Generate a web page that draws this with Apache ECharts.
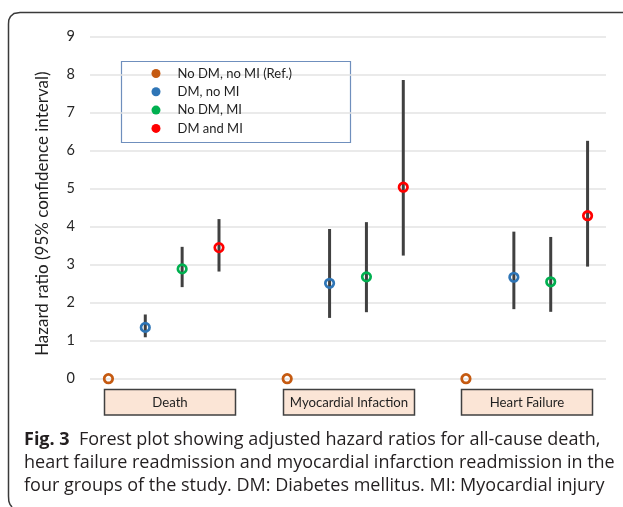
<!DOCTYPE html>
<html lang="en">
<head>
    <meta charset="utf-8">
    <title>Forest plot</title>
    <script src="https://cdn.jsdelivr.net/npm/echarts@6/dist/echarts.min.js"></script>
</head>
<body style="margin:0; background:#fff;">
<div id="main" style="width: 623px; height: 507px;"></div>
<script type="text/javascript">
    // outcomes and groups
    const categories = ['Death', 'Myocardial Infaction', 'Heart Failure'];
    const groups = ['No DM, no MI (Ref.)', 'DM, no MI', 'No DM, MI', 'DM and MI'];
    const colors = ['#c55a11', '#2e75b6', '#00b050', '#ff0000'];
    const yTicks = [0, 1, 2, 3, 4, 5, 6, 7, 8, 9];

    // slot of each point along the hidden x axis (one list per group)
    const slotRef = [0, 4.85, 9.7];
    const slotDmNoMi = [1, 6, 11];
    const slotNoDmMi = [2, 7, 12];
    const slotDmMi = [3, 8, 13];

    // hazard ratios with 95% CI
    const hrRef = [0, 0, 0];
    const hrDmNoMi = [1.35, 2.51, 2.67];
    const loDmNoMi = [1.09, 1.60, 1.83];
    const hiDmNoMi = [1.69, 3.94, 3.87];
    const hrNoDmMi = [2.89, 2.68, 2.55];
    const loNoDmMi = [2.41, 1.75, 1.76];
    const hiNoDmMi = [3.47, 4.12, 3.73];
    const hrDmMi = [3.45, 5.04, 4.29];
    const loDmMi = [2.82, 3.24, 2.95];
    const hiDmMi = [4.20, 7.86, 6.26];

    const chartFont = 'Lato';
    const capFont = 'Open Sans';

    let myChart = echarts.init(document.getElementById('main'));

    function pts(slots, vals) {
        return slots.map((s, i) => [s, vals[i]]);
    }
    function bars(slots, lo, hi) {
        return slots.map((s, i) => [s, lo[i], hi[i]]);
    }

    const barData = [].concat(
        bars(slotDmNoMi, loDmNoMi, hiDmNoMi),
        bars(slotNoDmMi, loNoDmMi, hiNoDmMi),
        bars(slotDmMi, loDmMi, hiDmMi)
    );

    const pointSets = [
        pts(slotRef, hrRef),
        pts(slotDmNoMi, hrDmNoMi),
        pts(slotNoDmMi, hrNoDmMi),
        pts(slotDmMi, hrDmMi)
    ];

    const series = [{
        type: 'custom',
        name: 'ci',
        z: 1,
        silent: true,
        data: barData,
        renderItem: function (params, api) {
            const lo = api.coord([api.value(0), api.value(1)]);
            const hi = api.coord([api.value(0), api.value(2)]);
            return {
                type: 'line',
                shape: {x1: lo[0], y1: lo[1], x2: hi[0], y2: hi[1]},
                style: {stroke: '#404040', lineWidth: 3}
            };
        }
    }];
    groups.forEach((g, i) => {
        series.push({
            type: 'scatter',
            name: g,
            z: 3,
            symbol: 'circle',
            symbolSize: 8.5,
            itemStyle: {color: 'rgba(255,255,255,0)', borderColor: colors[i], borderWidth: 2.7, opacity: 1},
            data: pointSets[i]
        });
    });

    // category label boxes
    const boxes = [
        {x: 104.5, label: categories[0]},
        {x: 283.5, label: categories[1]},
        {x: 461.5, label: categories[2]}
    ];
    const graphics = [];
    boxes.forEach(b => {
        graphics.push({
            type: 'rect',
            shape: {x: b.x, y: 389.5, width: 131, height: 25.5},
            style: {fill: '#fbe5d6', stroke: '#404040', lineWidth: 1.5}
        });
        graphics.push({
            type: 'text', x: b.x + 65.5, y: 402.5,
            style: {text: b.label, fill: '#1f1f1f', font: '13.2px ' + chartFont, textAlign: 'center', textVerticalAlign: 'middle'}
        });
    });
    // legend frame
    graphics.push({
        type: 'rect', z: -1,
        shape: {x: 121.5, y: 61.5, width: 229, height: 81},
        style: {fill: null, stroke: '#6f8fbd', lineWidth: 1.2}
    });
    // figure frame (top + left edge, rounded corners)
    graphics.push({
        type: 'polyline', silent: true,
        shape: {points: [[623, 12.5], [20, 12.5], [14, 13.5], [10.5, 16.5], [8.8, 20], [8.5, 24],
            [8.5, 496], [8.8, 501], [10, 504.5], [12, 507]]},
        style: {fill: null, stroke: '#3a3a3a', lineWidth: 1.5}
    });
    // caption
    const capLines = [
        '{b|Fig. 3}  Forest plot showing adjusted hazard ratios for all-cause death,',
        'heart failure readmission and myocardial infarction readmission in the',
        'four groups of the study. DM: Diabetes mellitus. MI: Myocardial injury'
    ];
    capLines.forEach((t, i) => {
        graphics.push({
            type: 'text', x: 24, y: 430.5 + i * 23.3,
            style: {
                text: t, fill: '#231f20', font: '18px ' + capFont,
                rich: {b: {fontWeight: 'bold', fontSize: 18, fontFamily: capFont, fill: '#231f20'}}
            }
        });
    });

    const option = {
        animation: false,
        textStyle: {fontFamily: chartFont},
        grid: {left: 90, right: 17, top: 36.7, bottom: 128.3},
        legend: {
            orient: 'vertical',
            left: 151.5, top: 67,
            padding: 0,
            itemGap: 5.3,
            itemWidth: 9, itemHeight: 9,
            icon: 'circle',
            textStyle: {fontSize: 13, color: '#1f1f1f', fontFamily: chartFont, padding: [0, 0, 0, 12]},
            data: groups.map((g, i) => ({name: g, itemStyle: {color: colors[i], borderWidth: 0}}))
        },
        xAxis: {
            type: 'value', min: -0.5, max: 13.5, show: false
        },
        yAxis: {
            type: 'value', min: yTicks[0], max: yTicks[yTicks.length - 1], interval: 1,
            name: 'Hazard ratio (95% confidence interval)',
            nameLocation: 'middle', nameGap: 39,
            nameTextStyle: {fontSize: 17, color: '#1f1f1f', fontFamily: chartFont, padding: [0, 12, 0, 0]},
            axisLine: {show: false}, axisTick: {show: false},
            axisLabel: {fontSize: 14.5, color: '#262626', margin: 15},
            splitLine: {lineStyle: {color: '#e3e3e3', width: 1.5}}
        },
        graphic: graphics,
        series: series
    };
    myChart.setOption(option);
</script>
</body>
</html>
